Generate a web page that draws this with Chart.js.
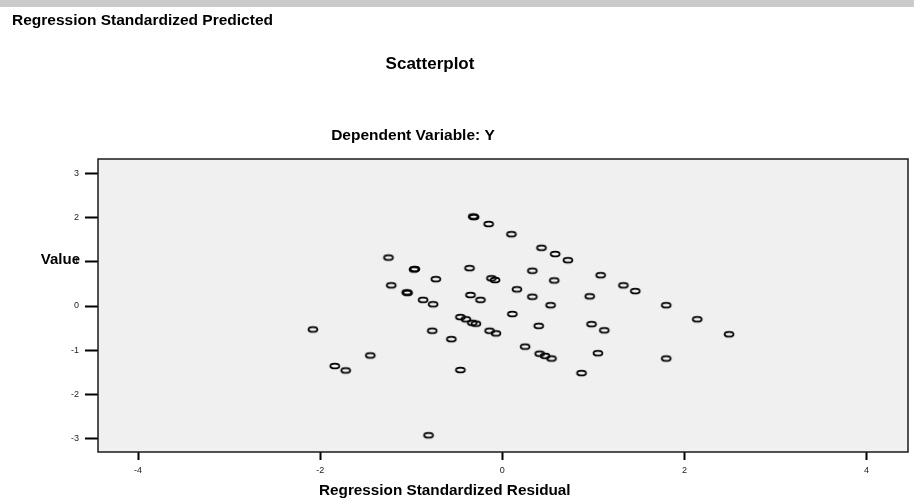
<!DOCTYPE html>
<html>
<head>
  <meta charset="utf-8" />
  <title>Scatterplot</title>
  <style>
    body { margin: 0; background: #fff; }
    canvas { display: block; }
  </style>
</head>
<body>
  <canvas id="stage" width="914" height="502"></canvas>

  <script src="https://cdn.jsdelivr.net/npm/chart.js@4.4.0/dist/chart.umd.min.js"></script>
  <script>
    // regression standardized residual (x) / predicted value (y)
    const residual = [
      -0.32, -0.31, -0.15, 0.10, 0.43, 0.58, 0.72,
      -1.25, -0.97, -0.96, -0.73, -0.36, -0.12, -0.08, 0.33, 0.57, 1.08, 1.33, 1.46,
      -1.22, -1.05, -1.04, -0.87, -0.76, -0.35, -0.24, 0.16, 0.33, 0.53, 0.96, 1.80,
      2.14, 2.49, 0.11, 0.40, 0.98, 1.12,
      -0.46, -0.40, -0.33, -0.29, -0.14, -0.07, -0.77, -2.08, -0.56,
      0.25, 0.41, 0.47, 0.54, 1.05, 1.80, 0.87,
      -1.45, -1.84, -1.72, -0.46, -0.81
    ];
    const predicted = [
      2.03, 2.02, 1.86, 1.63, 1.32, 1.18, 1.04,
      1.10, 0.83, 0.84, 0.61, 0.86, 0.63, 0.59, 0.80, 0.58, 0.70, 0.47, 0.34,
      0.47, 0.31, 0.30, 0.14, 0.04, 0.25, 0.14, 0.38, 0.21, 0.02, 0.22, 0.02,
      -0.30, -0.64, -0.18, -0.45, -0.41, -0.55,
      -0.25, -0.30, -0.38, -0.40, -0.56, -0.62, -0.56, -0.53, -0.75,
      -0.92, -1.08, -1.13, -1.19, -1.07, -1.19, -1.52,
      -1.12, -1.36, -1.46, -1.45, -2.93
    ];
    const xTicks = [-4, -2, 0, 2, 4];
    const yTicks = [-3, -2, -1, 0, 1, 2, 3];

    const font = '"Liberation Sans", Arial, sans-serif';

    // open ellipse marker
    const marker = document.createElement('canvas');
    marker.width = 14;
    marker.height = 10;
    const mctx = marker.getContext('2d');
    mctx.strokeStyle = '#000';
    mctx.lineWidth = 1.8;
    mctx.beginPath();
    mctx.ellipse(7, 5, 4.45, 2.45, 0, 0, Math.PI * 2);
    mctx.stroke();

    const frame = {
      id: 'frame',
      beforeDraw(chart) {
        const ctx = chart.ctx;
        const a = chart.chartArea;
        ctx.save();
        // grey strip at the very top
        ctx.fillStyle = '#cbcbcb';
        ctx.fillRect(0, 0, 914, 7);
        ctx.fillStyle = '#f0f0f0';
        ctx.fillRect(a.left, a.top, a.right - a.left, a.bottom - a.top);
        ctx.restore();
      },
      afterDraw(chart) {
        const ctx = chart.ctx;
        const a = chart.chartArea;
        ctx.save();
        ctx.strokeStyle = '#1a1a1a';
        ctx.lineWidth = 1.5;
        ctx.strokeRect(a.left, a.top, a.right - a.left, a.bottom - a.top);

        ctx.fillStyle = '#000';
        ctx.textBaseline = 'middle';
        ctx.font = 'bold 15.5px ' + font;
        ctx.textAlign = 'left';
        ctx.fillText('Regression Standardized Predicted', 12, 21);
        ctx.font = 'bold 15.3px ' + font;
        ctx.fillText('Regression Standardized Residual', 319, 491);
        ctx.textAlign = 'center';
        ctx.font = 'bold 15.5px ' + font;
        ctx.fillText('Dependent Variable: Y', 413, 136);
        ctx.font = 'bold 17px ' + font;
        ctx.fillText('Scatterplot', 430, 64);
        ctx.font = 'bold 15px ' + font;
        ctx.textAlign = 'right';
        ctx.fillText('Value', 80, 260);
        ctx.restore();
      }
    };

    new Chart(document.getElementById('stage'), {
      type: 'scatter',
      data: {
        datasets: [{
          data: residual.map((x, i) => ({ x: x, y: predicted[i] })),
          pointStyle: marker,
          radius: 5,
        }]
      },
      options: {
        responsive: false,
        animation: false,
        layout: { padding: { top: 159, right: 6, left: 0, bottom: 0 } },
        plugins: { legend: { display: false }, tooltip: { enabled: false } },
        scales: {
          x: {
            min: -4.44,
            max: 4.455,
            afterBuildTicks: s => { s.ticks = xTicks.map(v => ({ value: v })); },
            afterFit: s => { s.height = 50; },
            border: { display: false },
            grid: { drawOnChartArea: false, tickLength: 8, tickWidth: 2, tickColor: '#000' },
            ticks: { padding: 5, color: '#222', font: { family: font, size: 9 }, maxRotation: 0, callback: v => String(v) }
          },
          y: {
            min: -3.311,
            max: 3.334,
            afterBuildTicks: s => { s.ticks = yTicks.map(v => ({ value: v })); },
            afterFit: s => { s.width = 98; },
            border: { display: false },
            grid: { drawOnChartArea: false, tickLength: 13, tickWidth: 2, tickColor: '#000' },
            ticks: { padding: 6, color: '#222', font: { family: font, size: 9 }, callback: v => String(v) }
          }
        }
      },
      plugins: [frame]
    });
  </script>
</body>
</html>
